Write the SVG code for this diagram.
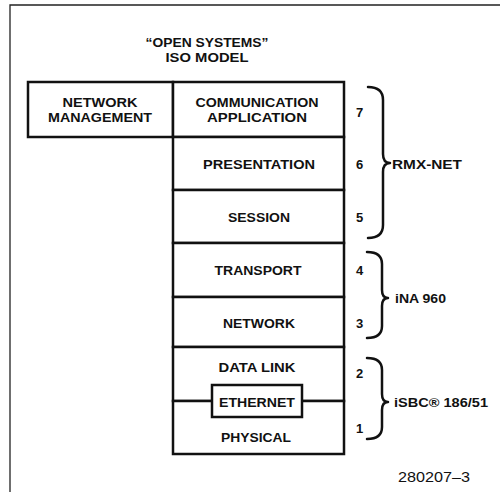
<svg xmlns="http://www.w3.org/2000/svg" width="500" height="492" viewBox="0 0 500 492">
<style>
.t{font-family:"Liberation Sans",Arial,sans-serif;font-weight:bold;font-size:13.5px;fill:#111;text-anchor:middle}
.n{font-family:"Liberation Sans",Arial,sans-serif;font-weight:bold;font-size:13px;fill:#111}
.l{font-family:"Liberation Sans",Arial,sans-serif;font-weight:bold;font-size:13px;fill:#111}
.box{fill:#fff;stroke:#111;stroke-width:2.5}
.ln{fill:none;stroke:#111;stroke-width:2.5}
.br{fill:none;stroke:#111;stroke-width:2.5;stroke-linecap:round;stroke-linejoin:round}
.fr{fill:none;stroke:#222;stroke-width:1.3}
</style>
<rect width="500" height="492" fill="#fff"/>
<path class="fr" d="M10,492 L10,5 L500,5"/>
<g id="title">
<text class="t" x="207" y="47" textLength="123" lengthAdjust="spacingAndGlyphs">“OPEN SYSTEMS”</text>
<text class="t" x="207" y="62" textLength="83" lengthAdjust="spacingAndGlyphs">ISO MODEL</text>
</g>
<g id="network-management">
<rect class="box" x="28" y="82" width="145" height="55"/>
<text class="t" x="100" y="107" textLength="75" lengthAdjust="spacingAndGlyphs">NETWORK</text>
<text class="t" x="100" y="122" textLength="104" lengthAdjust="spacingAndGlyphs">MANAGEMENT</text>
</g>
<g id="layer7">
<rect class="box" x="173" y="82" width="171" height="55"/>
<text class="t" x="257" y="107" textLength="123" lengthAdjust="spacingAndGlyphs">COMMUNICATION</text>
<text class="t" x="257" y="122" textLength="100" lengthAdjust="spacingAndGlyphs">APPLICATION</text>
<text class="n" x="356" y="117">7</text>
</g>
<g id="layer6">
<rect class="box" x="173" y="137" width="171" height="53"/>
<text class="t" x="259" y="169" textLength="112" lengthAdjust="spacingAndGlyphs">PRESENTATION</text>
<text class="n" x="356" y="169">6</text>
</g>
<g id="layer5">
<rect class="box" x="173" y="190" width="171" height="53"/>
<text class="t" x="259" y="222" textLength="62" lengthAdjust="spacingAndGlyphs">SESSION</text>
<text class="n" x="356" y="222">5</text>
</g>
<g id="layer4">
<rect class="box" x="173" y="243" width="171" height="54"/>
<text class="t" x="258" y="275" textLength="87" lengthAdjust="spacingAndGlyphs">TRANSPORT</text>
<text class="n" x="356" y="275">4</text>
</g>
<g id="layer3">
<rect class="box" x="173" y="297" width="171" height="50"/>
<text class="t" x="259" y="328" textLength="72" lengthAdjust="spacingAndGlyphs">NETWORK</text>
<text class="n" x="356" y="328">3</text>
</g>
<g id="layer2">
<rect class="box" x="173" y="347" width="171" height="54"/>
<text class="t" x="257" y="372" textLength="77" lengthAdjust="spacingAndGlyphs">DATA LINK</text>
<text class="n" x="356" y="378">2</text>
</g>
<g id="layer1">
<rect class="box" x="173" y="401" width="171" height="53"/>
<text class="t" x="256" y="442" textLength="70" lengthAdjust="spacingAndGlyphs">PHYSICAL</text>
<text class="n" x="356" y="433">1</text>
</g>
<g id="connectors">
<path class="br" d="M368,87 Q383,87 383,100 L383,154 Q383,163 390,163 Q383,163 383,172 L383,225 Q383,238 368,238"/>
<path class="br" d="M367,252 Q382,252 382,264 L382,290 Q382,298 388,298 Q382,298 382,306 L382,326 Q382,338 367,338"/>
<path class="br" d="M367,358 Q382,358 382,370 L382,394 Q382,402 388,402 Q382,402 382,410 L382,427 Q382,439 367,439"/>
</g>
<g id="ethernet">
<rect class="box" x="212" y="385" width="90" height="32"/>
<text class="t" x="257" y="407" textLength="76" lengthAdjust="spacingAndGlyphs">ETHERNET</text>
</g>
<g id="labels">
<text class="l" x="392" y="169" textLength="70" lengthAdjust="spacingAndGlyphs">RMX-NET</text>
<text class="l" x="395" y="303" textLength="51" lengthAdjust="spacingAndGlyphs">iNA 960</text>
<text class="l" x="394" y="407" textLength="94" lengthAdjust="spacingAndGlyphs">iSBC® 186/51</text>
<text x="398" y="482" font-family="'Liberation Sans',Arial,sans-serif" font-size="15" fill="#111" textLength="72" lengthAdjust="spacingAndGlyphs">280207–3</text>
</g>
</svg>
